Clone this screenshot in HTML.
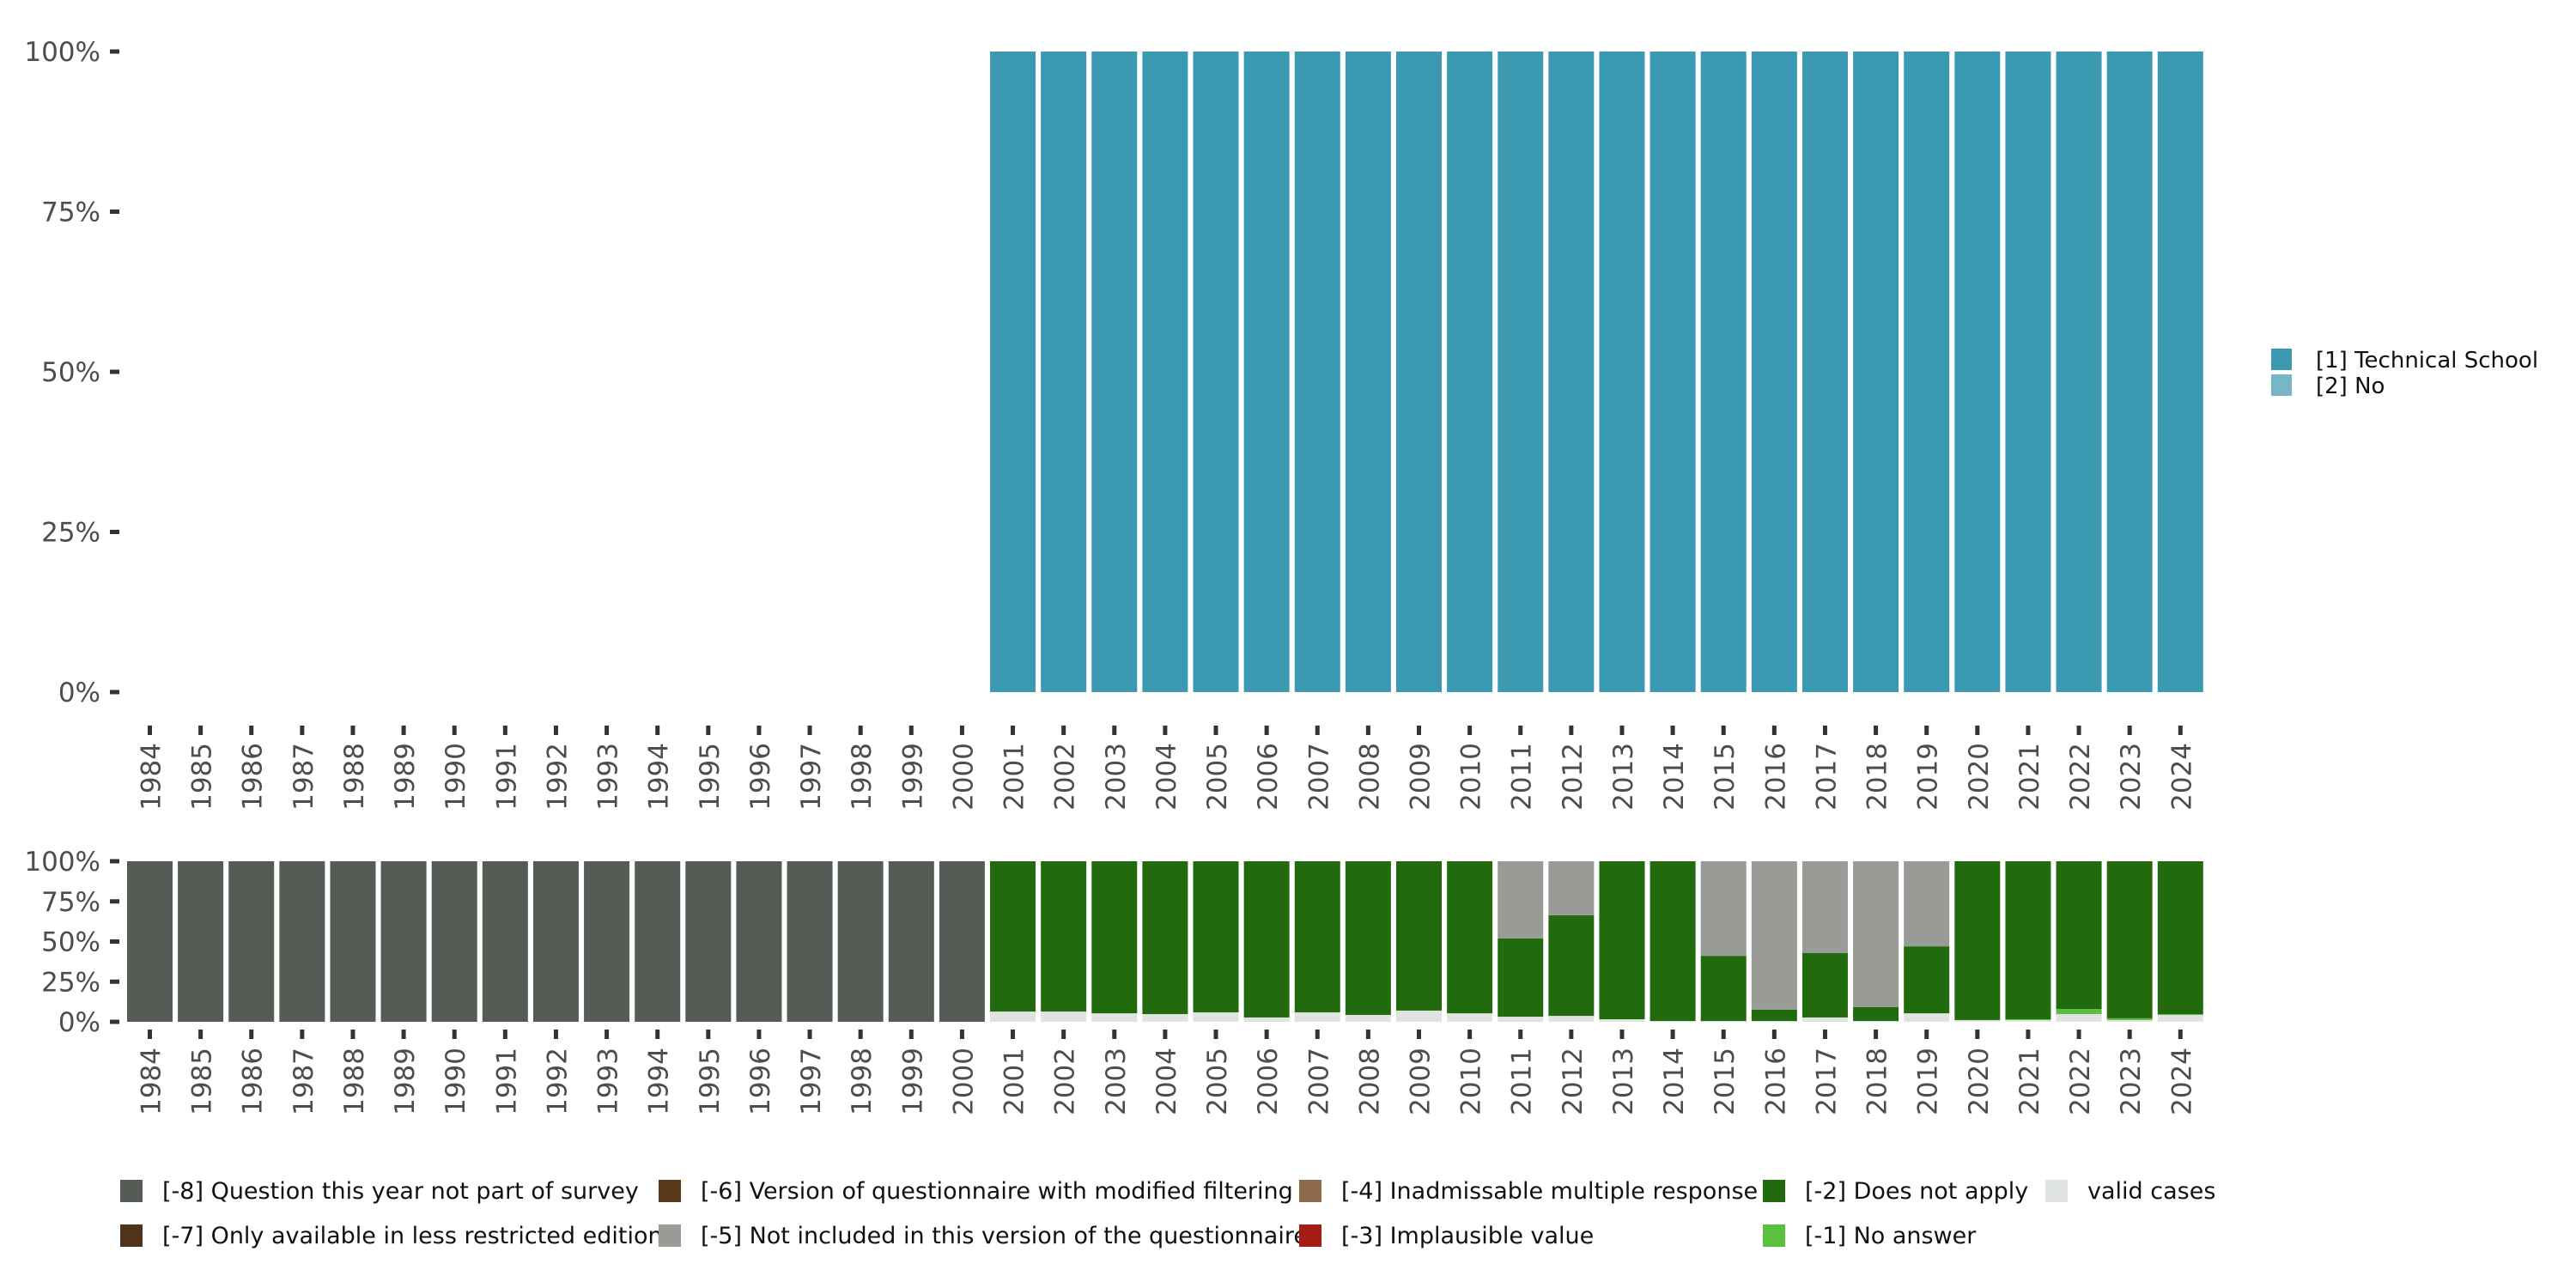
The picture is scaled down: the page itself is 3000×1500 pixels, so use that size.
<!DOCTYPE html>
<html><head><meta charset="utf-8"><style>
html,body{margin:0;padding:0;background:#fff;}
svg{display:block;font-family:"DejaVu Sans","Liberation Sans",sans-serif;}
</style></head><body>
<svg id="chart" width="3000" height="1500" viewBox="0 0 3000 1500" xmlns="http://www.w3.org/2000/svg">
<g id="top"></g>
<g id="bot"></g>
<g id="legR"></g>
<g id="legB"></g>
</svg>
<script>
const years = [];
for (let y = 1984; y <= 2024; y++) years.push(y);
const topTech = [0,0,0,0,0,0,0,0,0,0,0,0,0,0,0,0,0,100,100,100,100,100,100,100,100,100,100,100,100,100,100,100,100,100,100,100,100,100,100,100,100];
const topNo = [0,0,0,0,0,0,0,0,0,0,0,0,0,0,0,0,0,0,0,0,0,0,0,0,0,0,0,0,0,0,0,0,0,0,0,0,0,0,0,0,0];
// bottom panel values, years 1984-2024
const m8 = [100,100,100,100,100,100,100,100,100,100,100,100,100,100,100,100,100,0,0,0,0,0,0,0,0,0,0,0,0,0,0,0,0,0,0,0,0,0,0,0,0];
const valid = [0,0,0,0,0,0,0,0,0,0,0,0,0,0,0,0,0,6.4,6.4,5.3,4.8,5.9,2.7,5.9,4.3,7.0,5.3,3.2,3.7,1.6,0.5,0.5,0.5,2.7,0.5,5.3,1.1,1.1,4.8,1.1,4.3];
const m1 = [0,0,0,0,0,0,0,0,0,0,0,0,0,0,0,0,0,0,0,0,0,0,0,0,0,0,0,0,0,0,0,0,0,0,0,0,0,0.5,3.2,1.1,0.5];
const m2 = [0,0,0,0,0,0,0,0,0,0,0,0,0,0,0,0,0,93.6,93.6,94.7,95.2,94.1,97.3,94.1,95.7,93.0,94.7,48.7,62.7,98.4,99.5,40.6,7.0,40.1,8.6,41.7,98.9,98.4,92.0,97.8,95.2];
const m5 = [0,0,0,0,0,0,0,0,0,0,0,0,0,0,0,0,0,0,0,0,0,0,0,0,0,0,0,48.1,33.6,0,0,58.9,92.5,57.2,90.9,53.0,0,0,0,0,0];
const yTicks = [0,25,50,75,100];

const NS = "http://www.w3.org/2000/svg";
function el(tag, attrs, parent){const e=document.createElementNS(NS,tag);for(const k in attrs)e.setAttribute(k,attrs[k]);parent.appendChild(e);return e;}
const x0 = 174.5, step = 59.12, bw = 53;
function xC(i){return x0 + i*step;}

function panel(g, yTop, yBot, tickTop, labTop, series, cols, names){
  const ys = v => yBot - (yBot-yTop)*v/100;
  yTicks.forEach(t=>{
    const ty = ys(t);
    const tk = el('rect',{x:128,y:ty-2.5,width:11,height:5,fill:'#333'},g);
    
    
    const tx = el('text',{x:117,y:ty+11,'text-anchor':'end','font-size':31,fill:'#4d4d4d'},g);
    tx.textContent = t+'%';
    
    
  });
  years.forEach((yr,i)=>{
    let acc = 0;
    series.forEach((s,k)=>{
      const v = s[i];
      if (v>0){
        const r = el('rect',{x:xC(i)-bw/2,y:ys(acc+v),width:bw,height:ys(acc)-ys(acc+v),fill:cols[k]},g);
        
        
      }
      acc += v;
    });
    const tk = el('rect',{x:xC(i)-2.5,y:tickTop,width:5,height:11,fill:'#333'},g);
    
    
    const tx = el('text',{transform:'translate('+xC(i)+','+labTop+') rotate(-90)',x:0,y:12,'text-anchor':'end','font-size':31,fill:'#4d4d4d'},g);
    tx.textContent = yr;
    
    
  });
}
panel(document.getElementById('top'),60,806,845,865,[topNo,topTech],['#76B6C6','#3C99B2'],['no','technical-school']);
panel(document.getElementById('bot'),1003,1190,1199,1220,[valid,m1,m2,m5,m8],['#E0E4E0','#5BBF40','#226A0E','#989B96','#555B55'],['valid','no-answer','does-not-apply','not-included','not-part']);

const lr = document.getElementById('legR');
[['[1] Technical School','#3C99B2'],['[2] No','#76B6C6']].forEach((d,i)=>{
  const s = el('rect',{x:2645,y:406+i*30,width:24,height:25,fill:d[1]},lr);
  
  
  const t = el('text',{x:2697,y:428+i*30,'font-size':26,fill:'#111'},lr);
  t.textContent = d[0];
  
  
});
const lb = document.getElementById('legB');
const legItems = [
 ['[-8] Question this year not part of survey','#555B55',140,0],
 ['[-7] Only available in less restricted edition','#4F331A',140,1],
 ['[-6] Version of questionnaire with modified filtering','#5A3A1A',767,0],
 ['[-5] Not included in this version of the questionnaire','#989B96',767,1],
 ['[-4] Inadmissable multiple response','#8E6B4A',1513,0],
 ['[-3] Implausible value','#A51C14',1513,1],
 ['[-2] Does not apply','#226A0E',2053,0],
 ['[-1] No answer','#5BBF40',2053,1],
 ['valid cases','#E0E4E0',2382,0]
];
legItems.forEach(d=>{
  const yy = 1387 + d[3]*52;
  const s = el('rect',{x:d[2],y:yy-13,width:26,height:26,fill:d[1]},lb);
  
  
  const t = el('text',{x:d[2]+49,y:yy+9,'font-size':27,fill:'#111'},lb);
  t.textContent = d[0];
  
  
});
</script>
</body></html>
